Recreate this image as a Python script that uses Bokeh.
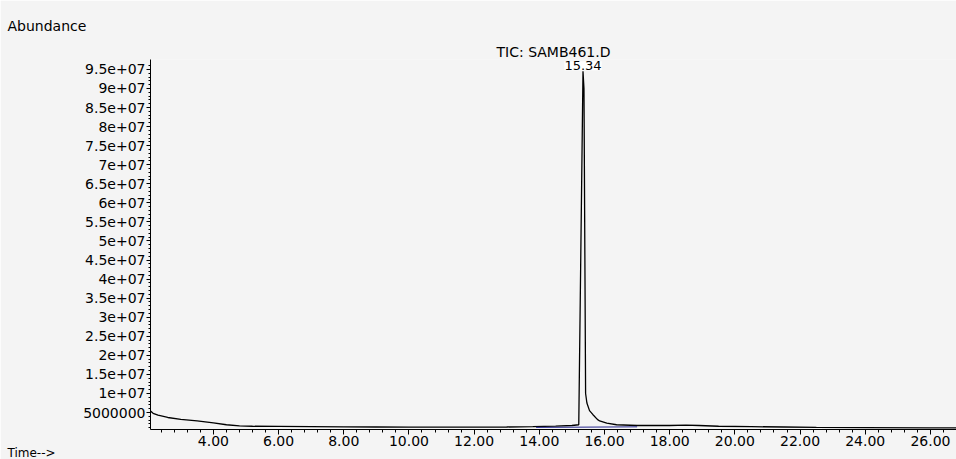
import numpy as np
from bokeh.plotting import figure
from bokeh.models import Range1d, FixedTicker, NumeralTickFormatter, Label, Title
from bokeh.embed import file_html
from bokeh.resources import INLINE

# ---- data ----
time_min = [2.07, 2.15, 2.3, 2.6, 3.0, 3.5, 4.0, 4.4, 4.8, 5.2, 6.0, 7.0, 8.0, 9.0,
            10.0, 11.0, 12.0, 13.0, 13.8, 14.5, 15.0, 15.21, 15.34, 15.37, 15.42,
            15.46, 15.54, 15.64, 15.78, 15.85, 16.07, 16.37, 17.0, 17.5, 18.0, 18.5,
            18.9, 19.5, 20.5, 21.5, 22.5, 24.0, 26.0, 26.8]
abundance = [5.4e6, 4.8e6, 4.3e6, 3.7e6, 3.2e6, 2.8e6, 2.3e6, 1.8e6, 1.5e6, 1.4e6,
             1.35e6, 1.3e6, 1.25e6, 1.2e6, 1.15e6, 1.15e6, 1.15e6, 1.2e6, 1.3e6,
             1.45e6, 1.6e6, 1.8e6, 9.45e7, 9.0e7, 1.0e7, 7.5e6, 5.5e6, 4.5e6, 3.2e6,
             2.8e6, 2.2e6, 1.8e6, 1.6e6, 1.6e6, 1.6e6, 1.7e6, 1.6e6, 1.4e6, 1.3e6,
             1.2e6, 1.1e6, 1.05e6, 1.0e6, 1.0e6]
baseline_time = [13.9, 17.0]
baseline_abund = [1.1e6, 1.25e6]

x_major_ticks = [4, 6, 8, 10, 12, 14, 16, 18, 20, 22, 24, 26]
y_tick_values = [5e6, 1e7, 1.5e7, 2e7, 2.5e7, 3e7, 3.5e7, 4e7, 4.5e7, 5e7,
                 5.5e7, 6e7, 6.5e7, 7e7, 7.5e7, 8e7, 8.5e7, 9e7, 9.5e7]
y_tick_labels = ["5000000", "1e+07", "1.5e+07", "2e+07", "2.5e+07", "3e+07",
                 "3.5e+07", "4e+07", "4.5e+07", "5e+07", "5.5e+07", "6e+07",
                 "6.5e+07", "7e+07", "7.5e+07", "8e+07", "8.5e+07", "9e+07", "9.5e+07"]
peak_time = 15.34
peak_abund = 9.45e7
peak_label = "15.34"
title_text = "TIC: SAMB461.D"
y_title = "Abundance"
x_title = "Time-->"

FONT = "DejaVu Sans"
FS = "14px"
BG = "#f4f4f4"

p = figure(width=956, height=459, output_backend="svg", toolbar_location=None,
           x_range=Range1d(2.07, 26.8), y_range=Range1d(0.55e6, 9.76e7),
           min_border_left=150, min_border_right=0, min_border_top=59,
           min_border_bottom=30, background_fill_color=BG,
           border_fill_color=BG, outline_line_color=None)

p.xgrid.visible = False
p.ygrid.visible = False

p.line(time_min, abundance, line_color="black", line_width=1.3)
p.line(baseline_time, baseline_abund, line_color="#24248c", line_width=1)

# x axis
p.xaxis.ticker = FixedTicker(ticks=x_major_ticks,
                             minor_ticks=list(np.round(np.arange(2.4, 26.9, 0.4), 2)))
p.xaxis.formatter = NumeralTickFormatter(format="0.00")
p.xaxis.major_tick_out = 5
p.xaxis.major_tick_in = 0
p.xaxis.minor_tick_out = 3
p.xaxis.minor_tick_in = 0
p.xaxis.major_label_standoff = 1
p.xaxis.major_label_text_font = FONT
p.xaxis.major_label_text_font_size = FS
p.xaxis.major_label_text_color = "black"

# y axis
p.yaxis.ticker = FixedTicker(ticks=y_tick_values,
                             minor_ticks=list(np.arange(1e6, 9.7e7, 1e6)))
p.yaxis.major_label_overrides = {v: s for v, s in zip(y_tick_values, y_tick_labels)}
p.yaxis.major_tick_out = 4
p.yaxis.major_tick_in = 0
p.yaxis.minor_tick_out = 2
p.yaxis.minor_tick_in = 0
p.yaxis.major_label_standoff = 1
p.yaxis.major_label_text_font = FONT
p.yaxis.major_label_text_font_size = FS
p.yaxis.major_label_text_color = "black"

for ax in (p.xaxis[0], p.yaxis[0]):
    ax.axis_line_color = "black"
    ax.major_tick_line_color = "black"
    ax.minor_tick_line_color = "black"

# titles outside the frame
p.title.text = y_title
p.title.align = "left"
p.title.offset = -143
p.title.standoff = 16
p.title.text_font = FONT
p.title.text_font_size = FS
p.title.text_font_style = "normal"
p.title.text_color = "black"

p.add_layout(Title(text=title_text, align="center", offset=5, standoff=0,
                   text_font=FONT, text_font_size=FS, text_font_style="normal",
                   text_color="black"), "above")
p.add_layout(Title(text=x_title, align="left", offset=-143, standoff=-10,
                   text_font=FONT, text_font_size="12px", text_font_style="normal",
                   text_color="black"), "below")

# peak annotation inside the frame
p.add_layout(Label(x=peak_time, y=peak_abund, text=peak_label, text_align="center",
                   text_baseline="bottom", y_offset=1, text_font=FONT,
                   text_font_size="13px", text_color="black",
                   background_fill_color="white"))

open("out.html", "w").write(file_html(p, INLINE))
